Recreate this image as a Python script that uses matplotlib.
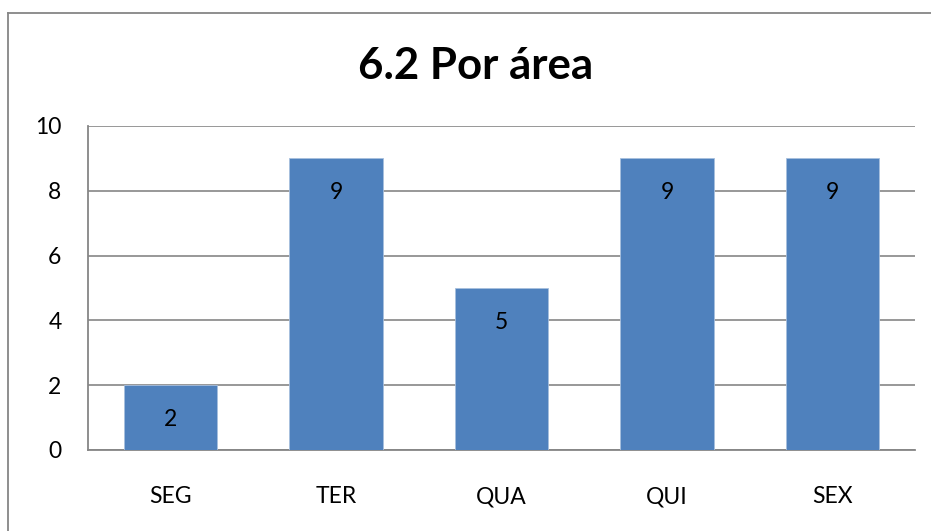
import matplotlib.pyplot as plt

days = ['SEG', 'TER', 'QUA', 'QUI', 'SEX']
counts = [2, 9, 5, 9, 9]
yticks = [0, 2, 4, 6, 8, 10]

plt.rcParams['font.family'] = ['Lato', 'DejaVu Sans']

fig = plt.figure(figsize=(9.31, 5.31), dpi=100)
ax = fig.add_axes([88 / 931, 1 - 450 / 531, (915 - 88) / 931, (450 - 126) / 531])

# outer chart frame (only top and left edges are inside the image)
fig.add_artist(plt.Line2D([8 / 931, 8 / 931], [0, 1 - 13 / 531], transform=fig.transFigure,
                          color='#868686', lw=1.3))
fig.add_artist(plt.Line2D([8 / 931, 1], [1 - 13 / 531, 1 - 13 / 531], transform=fig.transFigure,
                          color='#868686', lw=1.3))

x = range(len(days))
bars = ax.bar(x, counts, width=0.565, color='#4F81BD', edgecolor='#A7BFDE', linewidth=0.6, zorder=3)
for b, v in zip(bars, counts):
    ax.text(b.get_x() + b.get_width() / 2, v - 1.05, str(v), ha='center', va='center',
            fontsize=16.5, color='black', zorder=4)

ax.set_xlim(-0.5, len(days) - 0.5)
ax.set_ylim(0, 10)
ax.set_yticks(yticks)
ax.set_xticks(list(x))
ax.set_xticklabels(days)
ax.grid(axis='y', color='#868686', lw=1.2, zorder=0)
ax.tick_params(axis='both', length=0, labelsize=16.5)
ax.tick_params(axis='x', pad=26)
ax.tick_params(axis='y', pad=19)
for s in ['top', 'right']:
    ax.spines[s].set_visible(False)
for s in ['left', 'bottom']:
    ax.spines[s].set_color('#868686')
    ax.spines[s].set_linewidth(1.3)

fig.text(476 / 931, 1 - 66 / 531, '6.2 Por área', ha='center', va='center', fontsize=31.5, fontweight='bold')

fig.savefig('out.png', dpi=100)
